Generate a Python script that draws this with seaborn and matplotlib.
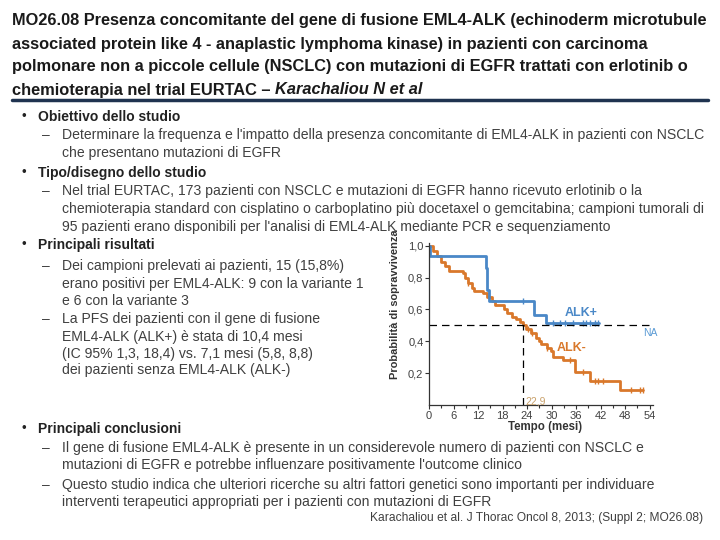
import numpy as np
import pandas as pd
import matplotlib
matplotlib.use("Agg")
import matplotlib.pyplot as plt
import seaborn as sns

# ---------- dati (Kaplan-Meier) ----------
alk_pos_t = [0, 0.3, 13.9, 14.3, 14.8, 25.6, 28.6, 41.6]
alk_pos_s = [1.0, 0.933, 0.86, 0.725, 0.65, 0.567, 0.515, 0.515]
alk_pos_cens = [23.0, 30.4, 32.0, 33.3, 35.3, 37.7, 38.5, 39.3, 40.6, 41.4]

alk_neg_t = [0, 1.0, 2.0, 3.0, 4.0, 5.0, 8.3, 8.8, 9.6, 10.4, 11.0, 13.3, 14.3,
             15.3, 16.1, 18.4, 19.2, 20.2, 21.3, 22.2, 22.9, 23.8, 25.0, 26.1,
             26.8, 27.5, 28.8, 29.8, 30.4, 32.8, 35.7, 39.4, 46.7, 52.4]
alk_neg_s = [1.0, 0.965, 0.935, 0.90, 0.87, 0.84, 0.826, 0.795, 0.765, 0.735,
             0.715, 0.70, 0.68, 0.655, 0.625, 0.60, 0.575, 0.55, 0.54, 0.52,
             0.50, 0.48, 0.45, 0.42, 0.40, 0.38, 0.36, 0.34, 0.30, 0.28, 0.21,
             0.15, 0.095, 0.095]
alk_neg_cens = [9.6, 24.3, 25.3, 28.8, 34.5, 37.7, 40.6, 41.4, 42.5, 49.5, 51.6, 52.4]

median_neg = 22.9
x_ticks = list(range(0, 55, 6))
y_ticks = [0.2, 0.4, 0.6, 0.8, 1.0]

BLUE = "#4a88c7"
ORANGE = "#d9782b"
TXT = "#404040"

title_lines = [
    "MO26.08 Presenza concomitante del gene di fusione EML4-ALK (echinoderm microtubule",
    "associated protein like 4 - anaplastic lymphoma kinase) in pazienti con carcinoma",
    "polmonare non a piccole cellule (NSCLC) con mutazioni di EGFR trattati con erlotinib o",
]
title_last = "chemioterapia nel trial EURTAC – "
title_italic = "Karachaliou N et al"

# (testo, y, tipo) tipo: h = titolo bullet, d = primo rigo con trattino, c = continuazione
body = [
    ("Obiettivo dello studio", 117, "h"),
    ("Determinare la frequenza e l'impatto della presenza concomitante di EML4-ALK in pazienti con NSCLC", 135, "d"),
    ("che presentano mutazioni di EGFR", 153, "c"),
    ("Tipo/disegno dello studio", 173, "h"),
    ("Nel trial EURTAC, 173 pazienti con NSCLC e mutazioni di EGFR hanno ricevuto erlotinib o la", 191, "d"),
    ("chemioterapia standard con cisplatino o carboplatino più docetaxel o gemcitabina; campioni tumorali di", 209, "c"),
    ("95 pazienti erano disponibili per l'analisi di EML4-ALK mediante PCR e sequenziamento", 227, "c"),
    ("Principali risultati", 245, "h"),
    ("Dei campioni prelevati ai pazienti, 15 (15,8%)", 266, "d"),
    ("erano positivi per EML4-ALK: 9 con la variante 1", 284, "c"),
    ("e 6 con la variante 3", 301, "c"),
    ("La PFS dei pazienti con il gene di fusione", 319, "d"),
    ("EML4-ALK (ALK+) è stata di 10,4 mesi", 337, "c"),
    ("(IC 95% 1,3, 18,4) vs. 7,1 mesi (5,8, 8,8)", 354, "c"),
    ("dei pazienti senza EML4-ALK (ALK-)", 370, "c"),
    ("Principali conclusioni", 429, "h"),
    ("Il gene di fusione EML4-ALK è presente in un considerevole numero di pazienti con NSCLC e", 448, "d"),
    ("mutazioni di EGFR e potrebbe influenzare positivamente l'outcome clinico", 465, "c"),
    ("Questo studio indica che ulteriori ricerche su altri fattori genetici sono importanti per individuare", 485, "d"),
    ("interventi terapeutici appropriati per i pazienti con mutazioni di EGFR", 502, "c"),
]
reference = "Karachaliou et al. J Thorac Oncol 8, 2013; (Suppl 2; MO26.08)"

# ---------- stile ----------
sns.set_style("ticks")
plt.rcParams["font.family"] = ["Liberation Sans", "DejaVu Sans"]

W, H = 720, 540
fig = plt.figure(figsize=(7.2, 5.4), dpi=100)


def fx(x):
    return x / W


def fy(y):
    return 1 - y / H


# ---- titolo ----
TS = 11.8
for i, line in enumerate(title_lines):
    fig.text(fx(12), fy(21 + i * 23), line, fontsize=TS, fontweight="bold",
             color="#1a1a1a", va="center")
t = fig.text(fx(12), fy(90), title_last, fontsize=TS, fontweight="bold",
             color="#1a1a1a", va="center")
fig.canvas.draw()
bb = t.get_window_extent()
fig.text(bb.x1 / fig.dpi / 7.2, fy(90), title_italic, fontsize=TS,
         fontweight="bold", style="italic", color="#1a1a1a", va="center")
fig.add_artist(plt.Line2D([fx(12), fx(708)], [fy(100), fy(100)],
                          color="#1f3350", lw=2.5))

# ---- testo ----
for text, y, kind in body:
    if kind == "h":
        fig.text(fx(21), fy(y), "•", fontsize=9.5, color="#222222", va="center")
        fig.text(fx(38), fy(y), text, fontsize=10, fontweight="bold",
                 color="#222222", va="center")
    else:
        if kind == "d":
            fig.text(fx(42), fy(y), "–", fontsize=10, color=TXT, va="center")
        fig.text(fx(62), fy(y), text, fontsize=10.1, color=TXT, va="center")
fig.text(fx(703), fy(518), reference, fontsize=8.65, color=TXT,
         va="center", ha="right")

# ---- grafico Kaplan-Meier ----
ax = fig.add_axes([fx(429), fy(405), (653 - 429) / W, (405 - 243) / H])

df_pos = pd.DataFrame({"t": alk_pos_t, "s": alk_pos_s})
df_neg = pd.DataFrame({"t": alk_neg_t, "s": alk_neg_s})
sns.lineplot(data=df_neg, x="t", y="s", ax=ax, color=ORANGE, lw=2,
             drawstyle="steps-post", estimator=None, sort=False)
sns.lineplot(data=df_pos, x="t", y="s", ax=ax, color=BLUE, lw=2,
             drawstyle="steps-post", estimator=None, sort=False)


def step_at(t, s, c):
    idx = np.searchsorted(t, c, side="right") - 1
    return np.asarray(s)[idx]


ax.plot(alk_neg_cens, step_at(alk_neg_t, alk_neg_s, alk_neg_cens), "|",
        color=ORANGE, ms=5, mew=1)
ax.plot(alk_pos_cens, step_at(alk_pos_t, alk_pos_s, alk_pos_cens), "|",
        color=BLUE, ms=5, mew=1)

ax.axhline(0.5, color="black", lw=0.9, ls=(0, (6, 4)))
ax.vlines(median_neg, 0, 0.5, color="black", lw=0.9, ls=(0, (6, 4)))

ax.text(33.2, 0.58, "ALK+", color=BLUE, fontsize=9, fontweight="bold", va="center")
ax.text(31.2, 0.355, "ALK-", color=ORANGE, fontsize=9, fontweight="bold", va="center")
ax.text(52.3, 0.452, "NA", color="#5b9bd5", fontsize=7.5, va="center", clip_on=False)
ax.text(23.5, 0.025, f"{median_neg:.1f}".replace(".", ","), color="#c8a06a",
        fontsize=7.5, va="center")

ax.set_xlim(0, 54.8)
ax.set_ylim(0, 1.017)
ax.set_xticks(x_ticks)
ax.set_xticks(np.arange(3, 55, 6), minor=True)
ax.set_yticks(y_ticks)
ax.set_yticklabels([f"{v:.1f}".replace(".", ",") for v in y_ticks])
ax.tick_params(axis="both", labelsize=8, labelcolor=TXT, color="#333333",
               length=3, width=0.8, pad=1)
ax.tick_params(axis="x", which="minor", length=1.8, width=0.8, color="#333333")
for side in ["left", "bottom"]:
    ax.spines[side].set_color("#333333")
    ax.spines[side].set_linewidth(0.9)
sns.despine(ax=ax)

ax.set_ylabel("")
ax.set_xlabel("Tempo (mesi)", fontsize=8.3, fontweight="bold", color="#333333")
ax.xaxis.set_label_coords(0.518, -0.1)
ax.xaxis.label.set_va("top")
fig.text(fx(395), fy(304), "Probabilità di sopravvivenza", rotation=90,
         fontsize=7.9, fontweight="bold", color="#333333", ha="center", va="center")

fig.savefig("out.png", dpi=100)
